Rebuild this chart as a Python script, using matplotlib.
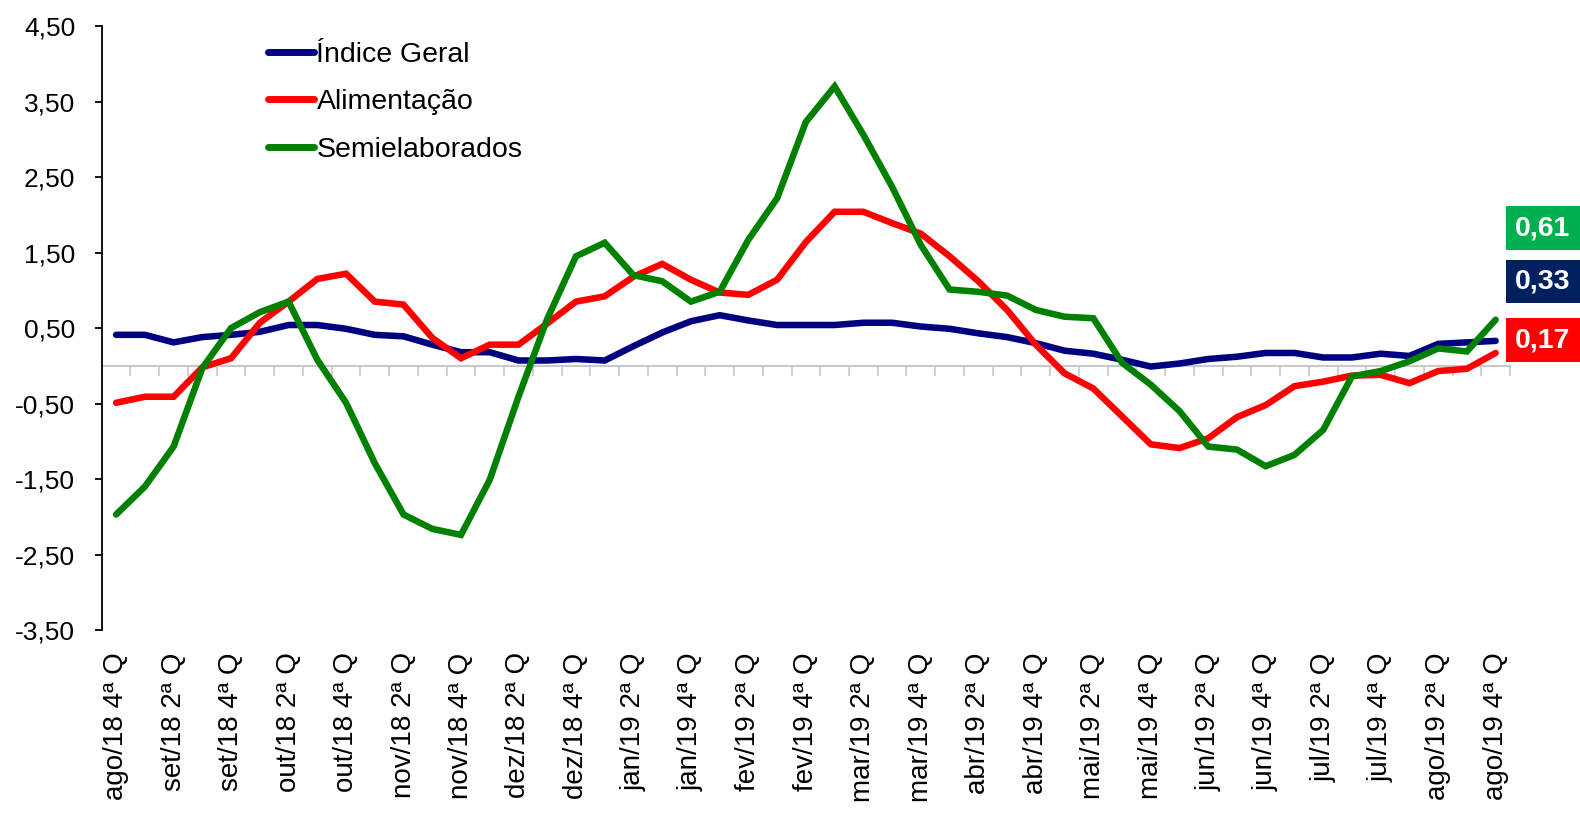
import numpy as np
import matplotlib
matplotlib.use("Agg")
import matplotlib.pyplot as plt
from matplotlib.patches import Rectangle
from matplotlib.ticker import FuncFormatter, FixedLocator

plt.rcParams['font.family'] = ['Liberation Sans', 'DejaVu Sans']

# rótulos do eixo x (um a cada duas quadrissemanas)
meses = ["ago/18", "set/18", "out/18", "nov/18", "dez/18", "jan/19", "fev/19",
         "mar/19", "abr/19", "mai/19", "jun/19", "jul/19", "ago/19"]
rotulos = ["ago/18 4ª Q"]
for m in meses[1:]:
    rotulos += [m + " 2ª Q", m + " 4ª Q"]

indice_geral = [0.41, 0.41, 0.31, 0.38, 0.41, 0.45, 0.54, 0.54, 0.49, 0.41,
                0.39, 0.28, 0.18, 0.18, 0.07, 0.07, 0.09, 0.07, 0.26, 0.44,
                0.59, 0.67, 0.60, 0.54, 0.54, 0.54, 0.57, 0.57, 0.52, 0.49,
                0.43, 0.38, 0.30, 0.20, 0.16, 0.08, -0.01, 0.03, 0.09, 0.12,
                0.17, 0.17, 0.11, 0.11, 0.16, 0.13, 0.29, 0.31, 0.33]
alimentacao = [-0.49, -0.41, -0.41, -0.02, 0.10, 0.57, 0.85, 1.15, 1.22, 0.85,
               0.81, 0.37, 0.10, 0.28, 0.28, 0.56, 0.85, 0.92, 1.18, 1.35,
               1.14, 0.97, 0.94, 1.14, 1.64, 2.04, 2.04, 1.89, 1.75, 1.45,
               1.12, 0.74, 0.28, -0.10, -0.30, -0.67, -1.04, -1.09, -0.96, -0.68,
               -0.52, -0.27, -0.21, -0.13, -0.12, -0.23, -0.07, -0.04, 0.17]
semielaborados = [-1.97, -1.60, -1.07, -0.03, 0.50, 0.71, 0.85, 0.08, -0.49, -1.29,
                  -1.97, -2.16, -2.24, -1.51, -0.41, 0.62, 1.45, 1.63, 1.20, 1.12,
                  0.85, 0.98, 1.67, 2.22, 3.23, 3.70, 3.06, 2.37, 1.60, 1.01,
                  0.98, 0.93, 0.74, 0.65, 0.63, 0.04, -0.25, -0.60, -1.07, -1.11,
                  -1.33, -1.18, -0.85, -0.14, -0.07, 0.06, 0.23, 0.19, 0.61]

series = [
    ("Índice Geral", indice_geral, "#000080", "#002060"),
    ("Alimentação", alimentacao, "#FF0000", "#FF0000"),
    ("Semielaborados", semielaborados, "#008000", "#00B050"),
]

fmt = lambda v, _=None: f"{v:.2f}".replace(".", ",")

fig = plt.figure(figsize=(15.8, 8.24), dpi=100)
ax = fig.add_axes([0.0644, 0.2354, 0.9557 - 0.0644, 0.9684 - 0.2354])

x = np.arange(len(indice_geral))
for nome, vals, cor, _ in series:
    ax.plot(x, vals, color=cor, lw=4.7, label=nome, solid_capstyle="round",
            solid_joinstyle="miter")

ymin, ymax = -3.5, 4.5
ax.set_xlim(-0.5, len(x) - 0.5)
ax.set_ylim(ymin, ymax)

# eixo y
ax.yaxis.set_major_locator(FixedLocator(np.arange(ymin, ymax + 0.01, 1.0)))
ax.yaxis.set_major_formatter(FuncFormatter(fmt))
ax.tick_params(axis="y", direction="out", length=5, width=1.3, labelsize=19, pad=14)
ax.spines["left"].set_linewidth(1.3)
for s in ["top", "right", "bottom"]:
    ax.spines[s].set_visible(False)

# rótulos do eixo x na base
ax.set_xticks(x[::2])
ax.set_xticklabels(rotulos, rotation=90, fontsize=20, va="top", ha="center")
ax.tick_params(axis="x", length=0, pad=16)

# linha do zero com marcas entre categorias
zero_pos = (0 - ymin) / (ymax - ymin)
sec = ax.secondary_xaxis(zero_pos)
sec.set_xticks(np.arange(-0.5, len(x), 1.0))
sec.set_xticklabels([])
sec.tick_params(direction="out", length=7, width=1.2, color="#C8C8C8")
sec.spines["bottom"].set_color("#C8C8C8")
sec.spines["bottom"].set_linewidth(1.5)

leg = ax.legend(loc="upper left", bbox_to_anchor=(0.11, 0.993), frameon=False,
                fontsize=20.5, handlelength=1.6, handletextpad=0.1, labelspacing=0.76,
                borderaxespad=0)
for h in leg.get_lines():
    h.set_linewidth(5)
    h.set_solid_capstyle("round")

# caixas com o último valor
caixas = {"Semielaborados": (206, 250), "Índice Geral": (260, 303), "Alimentação": (318, 362)}
W, H = 1580, 824
for nome, vals, _, cor_caixa in series:
    top, bot = caixas[nome]
    x0, x1 = 1506, 1580
    fig.patches.append(Rectangle((x0 / W, 1 - bot / H), (x1 - x0) / W, (bot - top) / H,
                                 transform=fig.transFigure, facecolor=cor_caixa,
                                 edgecolor="none"))
    fig.text((x0 + x1) / 2 / W, 1 - (top + bot) / 2 / H, fmt(vals[-1]), color="white",
             fontsize=20.5, fontweight="bold", ha="center", va="center")

fig.savefig("out.png", dpi=100)
